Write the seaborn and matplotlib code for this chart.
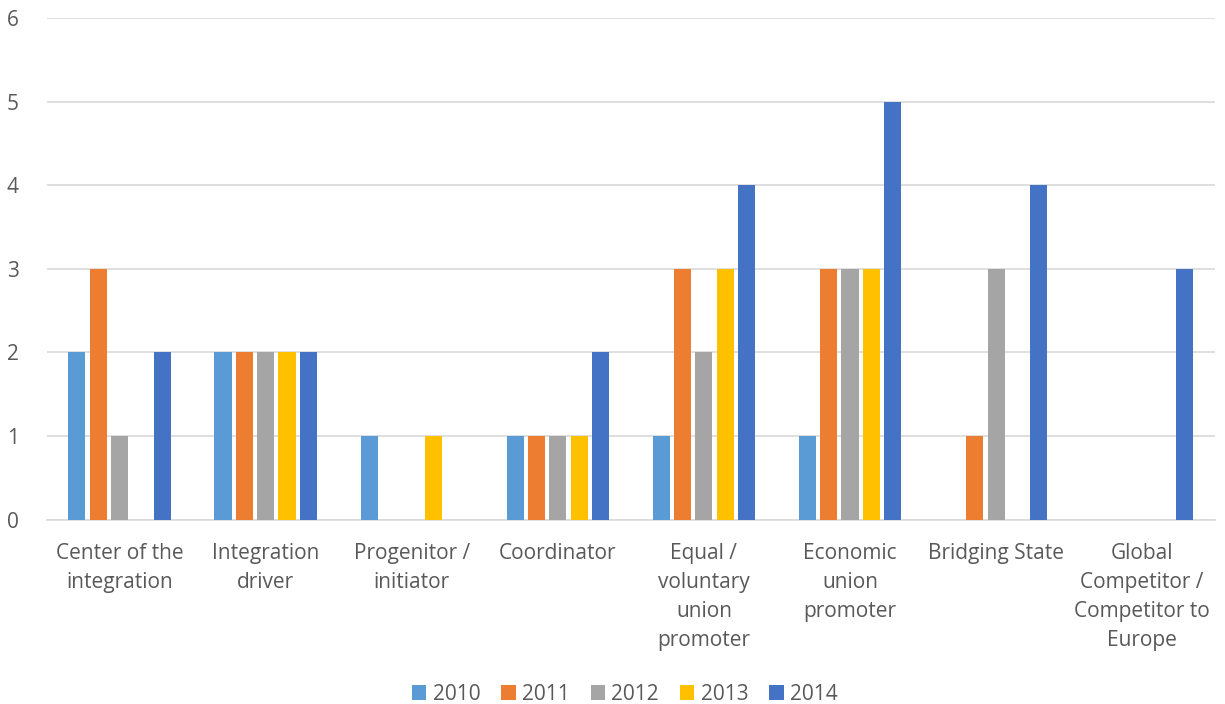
import matplotlib
matplotlib.use("Agg")
import matplotlib.pyplot as plt
import seaborn as sns
import pandas as pd

categories = [
    "Center of the\nintegration",
    "Integration\ndriver",
    "Progenitor /\ninitiator",
    "Coordinator",
    "Equal /\nvoluntary\nunion\npromoter",
    "Economic\nunion\npromoter",
    "Bridging State",
    "Global\nCompetitor /\nCompetitor to\nEurope",
]
years = ["2010", "2011", "2012", "2013", "2014"]
values_2010 = [2, 2, 1, 1, 1, 1, 0, 0]
values_2011 = [3, 2, 0, 1, 3, 3, 1, 0]
values_2012 = [1, 2, 0, 1, 2, 3, 3, 0]
values_2013 = [0, 2, 1, 1, 3, 3, 0, 0]
values_2014 = [2, 2, 0, 2, 4, 5, 4, 3]
y_ticks = [0, 1, 2, 3, 4, 5, 6]

colors = ["#5B9BD5", "#ED7D31", "#A5A5A5", "#FFC000", "#4472C4"]

series = [values_2010, values_2011, values_2012, values_2013, values_2014]
rows = []
for yr, vals in zip(years, series):
    for cat, v in zip(categories, vals):
        rows.append({"category": cat, "year": yr, "value": v})
df = pd.DataFrame(rows)

sns.set_theme(style="white")
plt.rcParams["font.family"] = ["Open Sans", "DejaVu Sans"]
text_color = "#595959"

fig = plt.figure(figsize=(12.25, 7.04), dpi=100)
ax = fig.add_axes([0.038, 0.262, 0.954, 0.712])

sns.barplot(data=df, x="category", y="value", hue="year", order=categories,
            hue_order=years, palette=colors, width=0.73, gap=0.2,
            saturation=1, errorbar=None, linewidth=0, ax=ax, zorder=3)

ax.set_ylim(0, 6)
ax.set_yticks(y_ticks)
ax.set_xlim(-0.5, len(categories) - 0.5)
ax.yaxis.grid(True, color="#D9D9D9", linewidth=1.2, zorder=0)
ax.set_axisbelow(True)
for s in ["top", "right", "left"]:
    ax.spines[s].set_visible(False)
ax.spines["bottom"].set_color("#D9D9D9")
ax.spines["bottom"].set_linewidth(1.2)
ax.set_xlabel("")
ax.set_ylabel("")
ax.tick_params(axis="both", length=0, colors=text_color, labelsize=15)
ax.tick_params(axis="y", pad=20)
ax.tick_params(axis="x", pad=17)
for lab in ax.get_xticklabels():
    lab.set_linespacing(1.5)

handles, labels = ax.get_legend_handles_labels()
ax.legend_.remove()
leg = fig.legend(handles, labels, loc="lower center", ncol=5, frameon=False,
                 bbox_to_anchor=(0.51, -0.028), fontsize=15, handlelength=0.7,
                 handleheight=0.7, handletextpad=0.3, columnspacing=1.0)
for t in leg.get_texts():
    t.set_color(text_color)

fig.savefig("out.png", dpi=100, facecolor="white")
